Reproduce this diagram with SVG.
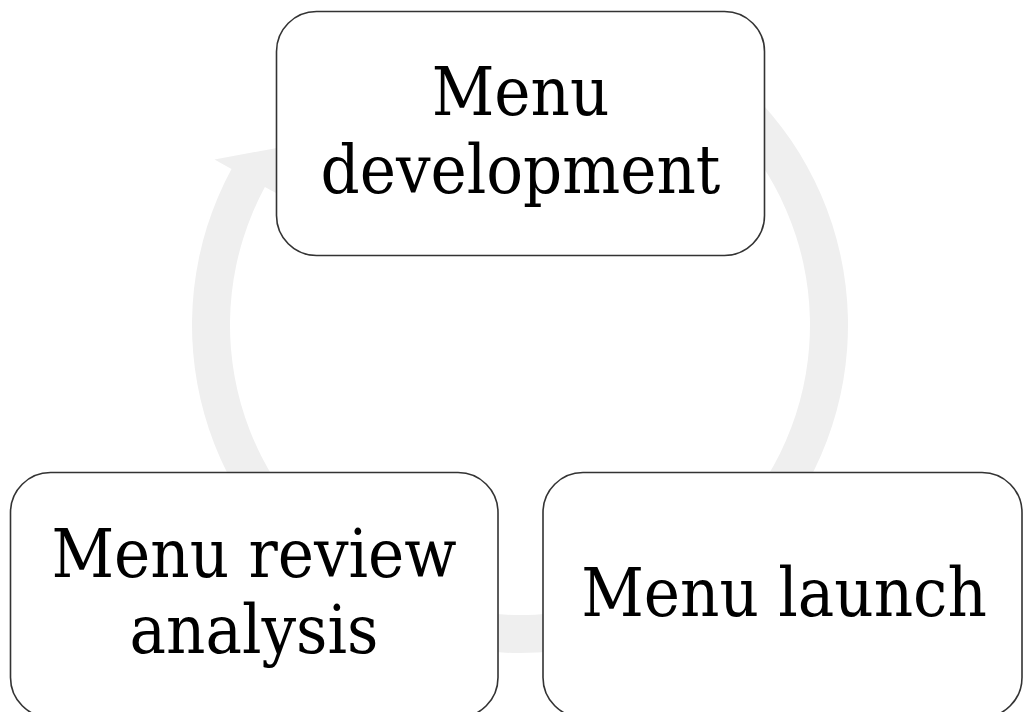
<svg xmlns="http://www.w3.org/2000/svg" width="1024" height="712" viewBox="0 0 1024 712">
  <style>
    .node rect { fill: #ffffff; stroke: #333333; stroke-width: 1.6; }
    .node text { font-family: "DejaVu Serif Condensed", "DejaVu Serif", serif; font-stretch: condensed; font-size: 68px; fill: #000000; text-anchor: middle; }
    .cycle { fill: #efefef; stroke: none; }
  </style>
  <rect width="1024" height="712" fill="#ffffff"/>

  <!-- circular arrow running clockwise behind the steps -->
  <g id="connectors">
    <path class="cycle" d="M 701 51.5 A 328 328 0 1 1 231.5 169 L 214.5 159.5 L 277 148 L 281.6 196.1 L 264.9 187.1 A 290 290 0 1 0 680 83.2 Z"/>
  </g>

  <g id="node-development" class="node">
    <rect x="276.5" y="11.5" width="488" height="244" rx="40" ry="40"/>
    <text x="520.5" y="115">Menu</text>
    <text x="520.5" y="193">development</text>
  </g>

  <g id="node-review" class="node">
    <rect x="10.5" y="472.5" width="487.5" height="245" rx="40" ry="40"/>
    <text x="254" y="577">Menu review</text>
    <text x="254" y="653">analysis</text>
  </g>

  <g id="node-launch" class="node">
    <rect x="543" y="472.5" width="479" height="245" rx="40" ry="40"/>
    <text x="784" y="616">Menu launch</text>
  </g>
</svg>
